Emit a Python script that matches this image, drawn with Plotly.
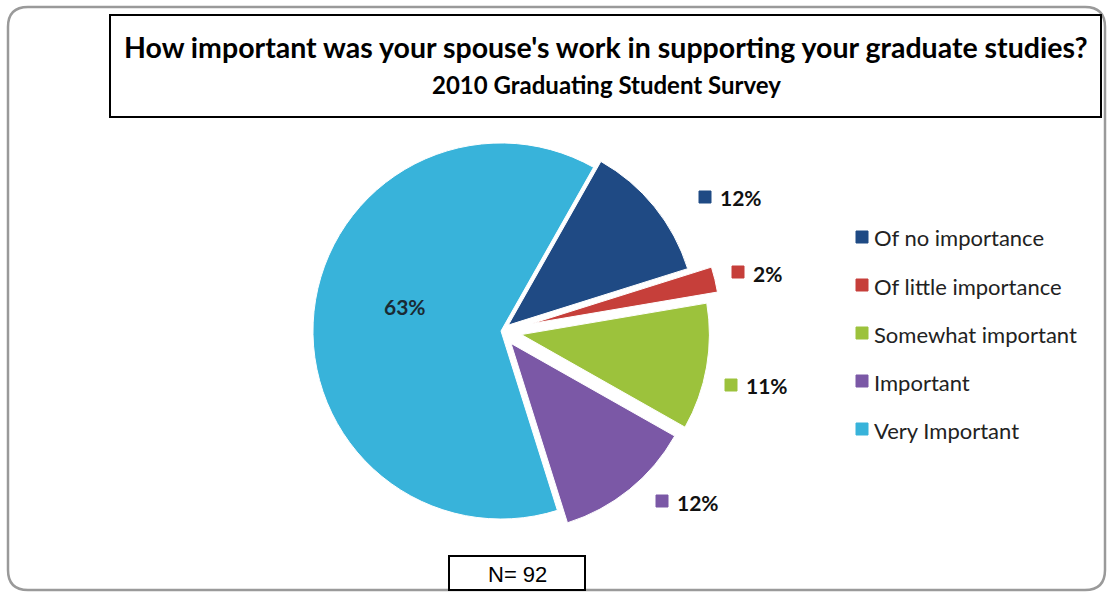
import plotly.graph_objects as go

# Survey responses (N = 92)
categories = ["Of no importance", "Of little importance", "Somewhat important",
              "Important", "Very Important"]
counts = [11, 2, 10, 11, 58]
colors = ["#1F4A84", "#C63F3A", "#9CC23C", "#7B58A6", "#38B3DA"]
pulls = [0.05, 0.17, 0.11, 0.085, 0.0]

title_lines = ["How important was your spouse's work in supporting your graduate studies?",
               "2010 Graduating Student Survey"]

W, H = 1111, 592


def px(x):
    return x / W


def py(y):
    return 1 - y / H


total = sum(counts)
pct_text = [f"{round(100 * c / total)}%" for c in counts]

fig = go.Figure(go.Pie(
    labels=categories,
    values=counts,
    marker=dict(colors=colors, line=dict(color="white", width=1)),
    pull=pulls,
    sort=False,
    direction="clockwise",
    rotation=29.5,
    textinfo="none",
    hoverinfo="skip",
    showlegend=False,
    domain=dict(x=[px(281), px(721)], y=[py(551), py(111)]),
))

shapes = []
annotations = []

# outer rounded frame
r = 20
x0, x1, y0, y1 = 8, 1105, 7, 590
path = (f"M {px(x0 + r)},{py(y0)} L {px(x1 - r)},{py(y0)} "
        f"Q {px(x1)},{py(y0)} {px(x1)},{py(y0 + r)} L {px(x1)},{py(y1 - r)} "
        f"Q {px(x1)},{py(y1)} {px(x1 - r)},{py(y1)} L {px(x0 + r)},{py(y1)} "
        f"Q {px(x0)},{py(y1)} {px(x0)},{py(y1 - r)} L {px(x0)},{py(y0 + r)} "
        f"Q {px(x0)},{py(y0)} {px(x0 + r)},{py(y0)} Z")
shapes.append(dict(type="path", xref="paper", yref="paper", path=path,
                   line=dict(color="#9a9a9a", width=2.5)))

# title box
shapes.append(dict(type="rect", xref="paper", yref="paper",
                   x0=px(110), x1=px(1101), y0=py(117), y1=py(15),
                   line=dict(color="black", width=2), fillcolor="white"))
for txt, ty, fs in zip(title_lines, [47, 84], [28.5, 24]):
    annotations.append(dict(xref="paper", yref="paper", x=px(606), y=py(ty),
                            text=f"<b>{txt}</b>", showarrow=False,
                            xanchor="center", yanchor="middle",
                            font=dict(family="Lato", size=fs, color="black")))

# data labels with colour keys
key_pos = [(705, 197), (738, 272), (731, 385), (662, 501)]
for i, (kx, ky) in enumerate(key_pos):
    s = 6
    shapes.append(dict(type="rect", xref="paper", yref="paper",
                       x0=px(kx - s), x1=px(kx + s), y0=py(ky + s), y1=py(ky - s),
                       fillcolor=colors[i], line=dict(color=colors[i], width=1)))
    annotations.append(dict(xref="paper", yref="paper", x=px(kx + 13), y=py(ky + 1),
                            text=f"<b>{pct_text[i]}</b>", showarrow=False,
                            xanchor="left", yanchor="middle",
                            font=dict(family="Lato", size=21, color="#111111")))
annotations.append(dict(xref="paper", yref="paper", x=px(405), y=py(307),
                        text=f"<b>{pct_text[4]}</b>", showarrow=False,
                        xanchor="center", yanchor="middle",
                        font=dict(family="Lato", size=21, color="#1a2a33")))

# legend
leg_y0, leg_step = 237, 48
for i, name in enumerate(categories):
    ly = leg_y0 + i * leg_step
    kx = 862
    shapes.append(dict(type="rect", xref="paper", yref="paper",
                       x0=px(kx - 6), x1=px(kx + 6), y0=py(ly + 6), y1=py(ly - 6),
                       fillcolor=colors[i], line=dict(color=colors[i], width=1)))
    annotations.append(dict(xref="paper", yref="paper", x=px(kx + 10), y=py(ly + 1),
                            text=name, showarrow=False,
                            xanchor="left", yanchor="middle",
                            font=dict(family="Lato", size=22, color="#222222")))

# sample size box
shapes.append(dict(type="rect", xref="paper", yref="paper",
                   x0=px(449), x1=px(585), y0=py(590), y1=py(556),
                   line=dict(color="black", width=2), fillcolor="white"))
annotations.append(dict(xref="paper", yref="paper", x=px(517), y=py(574),
                        text=f"N= {total}", showarrow=False,
                        xanchor="center", yanchor="middle",
                        font=dict(family="Liberation Sans", size=22, color="black")))

fig.update_layout(
    width=W, height=H,
    margin=dict(l=0, r=0, t=0, b=0),
    paper_bgcolor="white",
    plot_bgcolor="white",
    shapes=shapes,
    annotations=annotations,
)

fig.write_html("out.html")
